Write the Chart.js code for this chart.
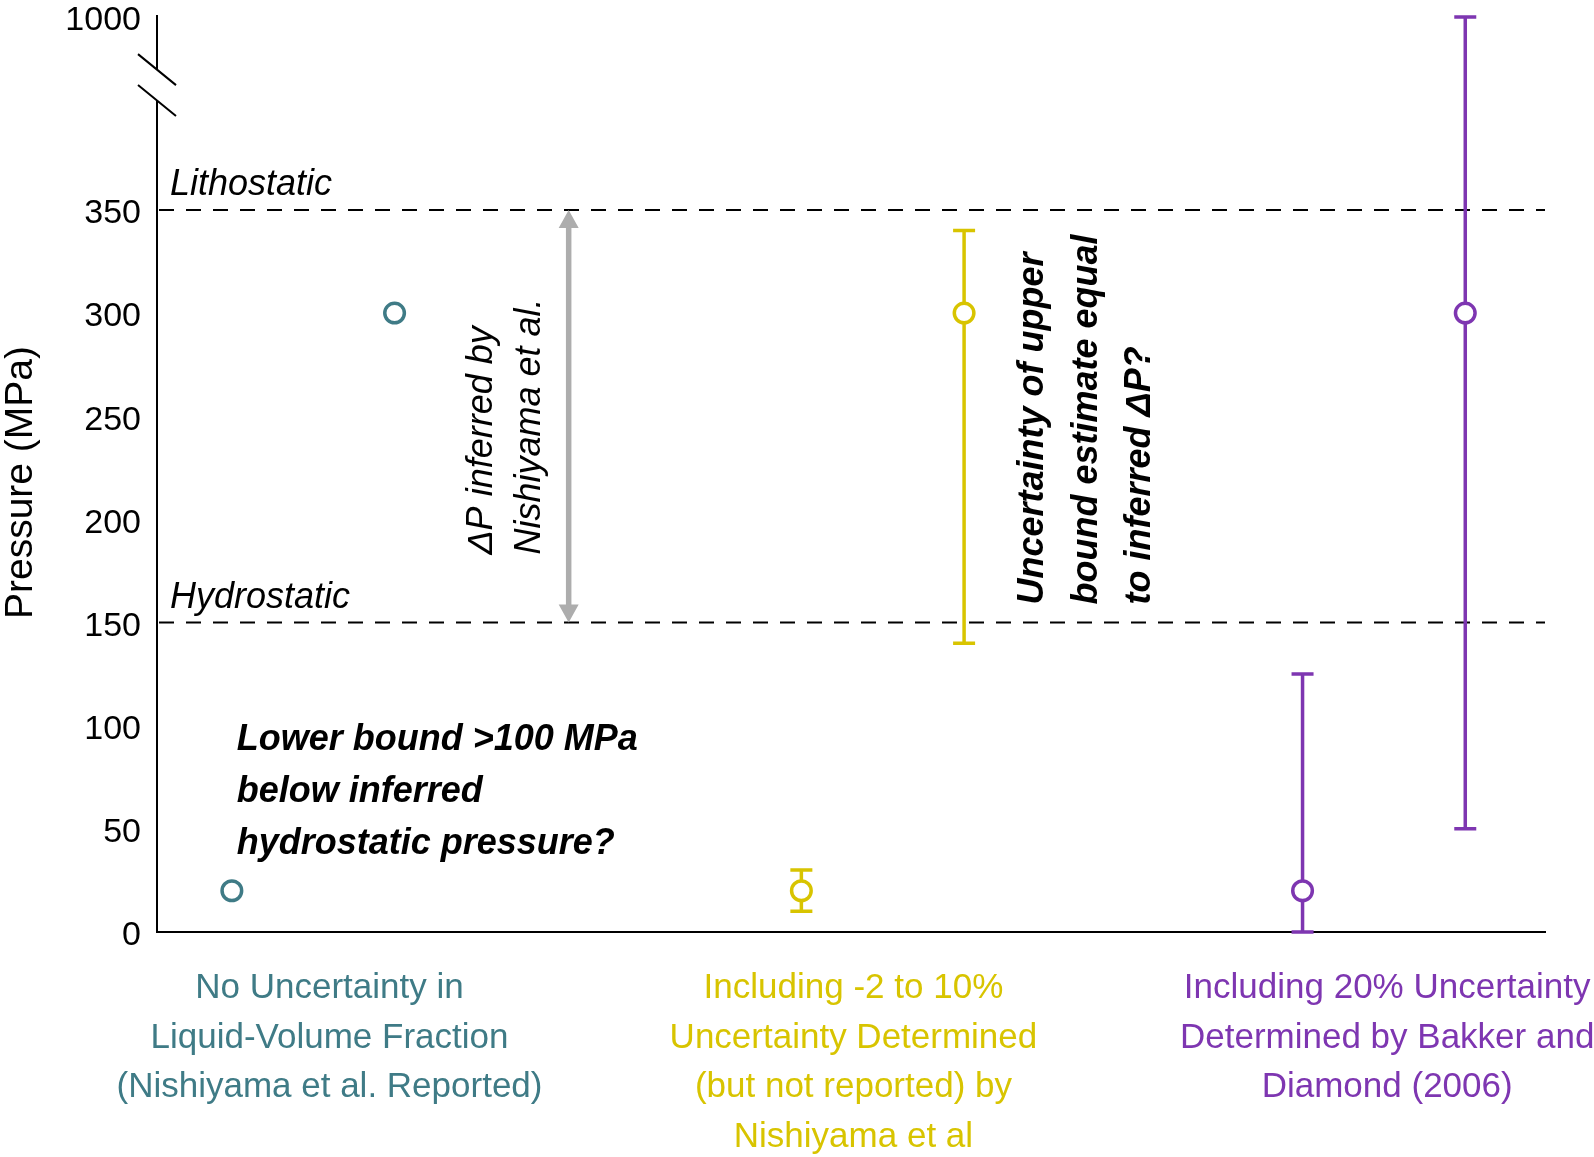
<!DOCTYPE html>
<html>
<head>
<meta charset="utf-8">
<title>Pressure estimates</title>
<script src="https://cdn.jsdelivr.net/npm/chart.js@4.4.1/dist/chart.umd.min.js"></script>
<style>
  html, body { margin: 0; padding: 0; background: #fff; }
  .chart-box { width: 1594px; height: 1157px; }
</style>
</head>
<body>
<div class="chart-box"><canvas id="myChart"></canvas></div>
<script>
'use strict';

// category labels under the axis and where they sit on x
const categories = [
  ['No Uncertainty in', 'Liquid-Volume Fraction', '(Nishiyama et al. Reported)'],
  ['Including -2 to 10%', 'Uncertainty Determined', '(but not reported) by', 'Nishiyama et al'],
  ['Including 20% Uncertainty', 'Determined by Bakker and', 'Diamond (2006)']
];
const categoryX = [1.06, 4.28, 7.56];
const seriesColors = ['#3f7b86', '#d8c400', '#7e36b1'];

// pressures in MPa (lower bound, upper bound estimate)
const noUncertaintyX = [0.46, 1.46];
const noUncertainty = [20, 300];

const smallUncertaintyX = [3.96, 4.96];
const smallUncertainty = [20, 300];
const smallLow = [10, 140];
const smallHigh = [30, 340];

const bakkerX = [7.04, 8.04];
const bakkerUncertainty = [20, 300];
const bakkerLow = [0, 50];
const bakkerHigh = [125, 1000];

const yTickValues = [0, 50, 100, 150, 200, 250, 300, 350, 1000];
const yTitle = 'Pressure (MPa)';
const referenceLevels = [150, 350];
const referenceNames = ['Hydrostatic', 'Lithostatic'];
const deltaPRange = [150, 350];
const deltaPX = 2.53;

// broken axis: linear up to 400, then squeezed up to 1000
const LINEAR_MAX = 400;
const AXIS_TOP = 443.5;
const BREAK_LO = 403;
const BREAK_HI = 418;
function toAxis(v) {
  if (v <= LINEAR_MAX) return v;
  return LINEAR_MAX + (v - LINEAR_MAX) * (AXIS_TOP - LINEAR_MAX) / (1000 - LINEAR_MAX);
}

const FONT = '"Liberation Sans", Arial, sans-serif';
Chart.defaults.font.family = FONT;

function points(xs, ys) {
  return xs.map((x, i) => ({ x: x, y: toAxis(ys[i]) }));
}

const errorSets = [
  { xs: smallUncertaintyX, low: smallLow, high: smallHigh, color: seriesColors[1] },
  { xs: bakkerX, low: bakkerLow, high: bakkerHigh, color: seriesColors[2] }
];

function rotatedLines(ctx, lines, x, y, spacing) {
  lines.forEach((line, i) => {
    ctx.save();
    ctx.translate(x + i * spacing, y);
    ctx.rotate(-Math.PI / 2);
    ctx.fillText(line, 0, 0);
    ctx.restore();
  });
}

const overlay = {
  id: 'overlay',
  beforeDatasetsDraw(chart) {
    const ctx = chart.ctx;
    const xs = chart.scales.x;
    const ys = chart.scales.y;
    const area = chart.chartArea;
    ctx.save();

    // hydrostatic / lithostatic dashed lines
    ctx.strokeStyle = '#000';
    ctx.lineWidth = 2;
    ctx.setLineDash([15, 12]);
    referenceLevels.forEach(v => {
      const py = ys.getPixelForValue(toAxis(v));
      ctx.beginPath();
      ctx.moveTo(area.left + 2, py);
      ctx.lineTo(area.right, py);
      ctx.stroke();
    });
    ctx.setLineDash([]);
    ctx.fillStyle = '#000';
    ctx.textAlign = 'left';
    ctx.textBaseline = 'alphabetic';
    ctx.font = 'italic 36px ' + FONT;
    referenceLevels.forEach((v, i) => {
      ctx.fillText(referenceNames[i], area.left + 13, ys.getPixelForValue(toAxis(v)) - 15);
    });

    // y axis title
    ctx.save();
    ctx.font = '39px ' + FONT;
    ctx.textAlign = 'center';
    ctx.textBaseline = 'middle';
    ctx.translate(21, (area.top + area.bottom) / 2 + 8);
    ctx.rotate(-Math.PI / 2);
    ctx.fillText(yTitle, 0, 0);
    ctx.restore();

    // y axis line with break marks
    const ax = area.left;
    const pHi = ys.getPixelForValue(BREAK_HI);
    const pLo = ys.getPixelForValue(BREAK_LO);
    ctx.lineWidth = 2;
    ctx.beginPath();
    ctx.moveTo(ax, area.top - 2);
    ctx.lineTo(ax, pHi);
    ctx.moveTo(ax, pLo);
    ctx.lineTo(ax, area.bottom);
    [pHi, pLo].forEach(p => {
      ctx.moveTo(ax - 19, p - 15.5);
      ctx.lineTo(ax + 19, p + 15.5);
    });
    ctx.stroke();

    // delta P arrow
    const axp = xs.getPixelForValue(deltaPX);
    const top = ys.getPixelForValue(toAxis(deltaPRange[1]));
    const bot = ys.getPixelForValue(toAxis(deltaPRange[0]));
    ctx.strokeStyle = '#adadad';
    ctx.fillStyle = '#adadad';
    ctx.lineWidth = 5.5;
    ctx.beginPath();
    ctx.moveTo(axp, top + 12);
    ctx.lineTo(axp, bot - 12);
    ctx.stroke();
    ctx.beginPath();
    ctx.moveTo(axp, top);
    ctx.lineTo(axp - 10, top + 18);
    ctx.lineTo(axp + 10, top + 18);
    ctx.closePath();
    ctx.moveTo(axp, bot);
    ctx.lineTo(axp - 10, bot - 18);
    ctx.lineTo(axp + 10, bot - 18);
    ctx.closePath();
    ctx.fill();

    // error bars
    errorSets.forEach(set => {
      ctx.strokeStyle = set.color;
      ctx.lineWidth = 3.5;
      set.xs.forEach((xv, i) => {
        const px = xs.getPixelForValue(xv);
        const lo = ys.getPixelForValue(toAxis(set.low[i]));
        const hi = ys.getPixelForValue(toAxis(set.high[i]));
        ctx.beginPath();
        ctx.moveTo(px, lo);
        ctx.lineTo(px, hi);
        ctx.moveTo(px - 11, lo);
        ctx.lineTo(px + 11, lo);
        ctx.moveTo(px - 11, hi);
        ctx.lineTo(px + 11, hi);
        ctx.stroke();
      });
    });

    // annotations
    ctx.fillStyle = '#000';
    ctx.textAlign = 'left';
    ctx.font = 'italic 36px ' + FONT;
    rotatedLines(ctx, ['\u0394P inferred by', 'Nishiyama et al.'],
      axp - 77, bot - 68, 48);

    ctx.font = 'italic bold 36px ' + FONT;
    rotatedLines(ctx, ['Uncertainty of upper', 'bound estimate equal', 'to inferred \u0394P?'],
      xs.getPixelForValue(smallUncertaintyX[1]) + 79, bot - 18, 53.5);

    const lbX = xs.getPixelForValue(0.49);
    const lbY = ys.getPixelForValue(100) + 24;
    ['Lower bound >100 MPa', 'below inferred', 'hydrostatic pressure?'].forEach((line, i) => {
      ctx.fillText(line, lbX, lbY + i * 52);
    });

    // category labels
    ctx.font = '35px ' + FONT;
    ctx.textAlign = 'center';
    categories.forEach((lines, c) => {
      ctx.fillStyle = seriesColors[c];
      const cx = xs.getPixelForValue(categoryX[c]);
      lines.forEach((line, i) => {
        ctx.fillText(line, cx, area.bottom + 66 + i * 49.5);
      });
    });

    ctx.restore();
  }
};

const ctx = document.getElementById('myChart').getContext('2d');
const myChart = new Chart(ctx, {
  type: 'scatter',
  data: {
    datasets: [
      { label: 'No uncertainty', data: points(noUncertaintyX, noUncertainty), borderColor: seriesColors[0] },
      { label: '-2 to 10%', data: points(smallUncertaintyX, smallUncertainty), borderColor: seriesColors[1] },
      { label: '20%', data: points(bakkerX, bakkerUncertainty), borderColor: seriesColors[2] }
    ]
  },
  options: {
    responsive: true,
    maintainAspectRatio: false,
    animation: false,
    layout: { padding: { top: 17, right: 49, left: 0, bottom: 0 } },
    elements: {
      point: { radius: 9.8, borderWidth: 3.5, backgroundColor: '#fff', hoverRadius: 9.8 }
    },
    plugins: {
      legend: { display: false },
      tooltip: { enabled: false }
    },
    scales: {
      x: {
        type: 'linear',
        min: 0,
        max: 8.53,
        grid: { display: false },
        border: { display: true, color: '#000', width: 2 },
        ticks: { display: false },
        afterFit(scale) {
          scale.height = 225;
          scale.paddingLeft = 0;
          scale.paddingRight = 0;
        }
      },
      y: {
        type: 'linear',
        min: 0,
        max: AXIS_TOP,
        grid: { display: false, drawTicks: false },
        border: { display: false },
        afterBuildTicks(scale) {
          scale.ticks = yTickValues.map(v => ({ value: toAxis(v) }));
        },
        ticks: {
          padding: 16,
          labelOffset: 4,
          color: '#000',
          font: { size: 34, lineHeight: 1 },
          callback: function (value) {
            const i = yTickValues.findIndex(v => Math.abs(toAxis(v) - value) < 0.01);
            return i >= 0 ? String(yTickValues[i]) : '';
          }
        },
        afterFit(scale) {
          scale.width = 157;
          scale.paddingTop = 0;
          scale.paddingBottom = 0;
        }
      }
    }
  },
  plugins: [overlay]
});
</script>
</body>
</html>
